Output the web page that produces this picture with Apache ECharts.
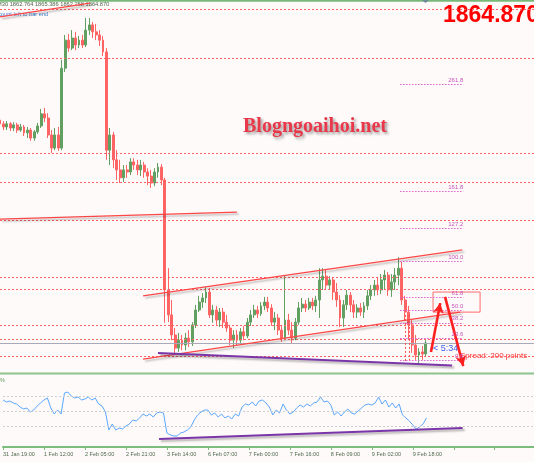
<!DOCTYPE html>
<html><head><meta charset="utf-8">
<script src="https://cdn.jsdelivr.net/npm/echarts@6/dist/echarts.min.js"></script>
<style>html,body{margin:0;padding:0;background:#fffafa}#c{width:534px;height:462px}</style>
</head><body><div id="c"></div>
<script>
const titleText = 'M30 1862.764 1865.386 1862.258 1864.870';
const timeLabels = ['31 Jan 19:00','1 Feb 12:00','2 Feb 05:00','2 Feb 21:00','3 Feb 14:00','6 Feb 07:00','7 Feb 00:00','7 Feb 16:00','8 Feb 09:00','9 Feb 02:00','9 Feb 18:00'];
const opens = [1929.3,1928.2,1927.3,1928.2,1927.0,1927.9,1926.4,1927.3,1925.6,1926.4,1924.1,1925.9,1927.6,1931.1,1929.9,1925.0,1921.2,1925.0,1921.2,1944.3,1952.4,1950.1,1953.0,1951.0,1952.4,1951.0,1955.3,1956.8,1954.8,1953.9,1952.4,1949.0,1920.6,1925.0,1917.8,1914.9,1912.6,1914.9,1914.3,1917.2,1916.3,1914.9,1916.3,1914.3,1913.1,1911.1,1914.3,1915.7,1912.0,1880.2,1873.0,1867.2,1863.4,1865.7,1864.3,1866.3,1865.2,1870.1,1874.4,1876.7,1877.9,1879.6,1873.0,1874.4,1871.5,1873.8,1870.9,1869.2,1865.7,1867.2,1865.7,1868.1,1866.9,1870.9,1873.0,1874.4,1873.3,1875.6,1876.7,1875.0,1870.9,1872.1,1868.6,1866.3,1871.5,1868.6,1866.3,1870.9,1875.0,1876.1,1875.0,1876.7,1875.6,1877.3,1883.1,1884.2,1881.6,1883.1,1879.6,1877.3,1872.1,1875.9,1878.7,1875.9,1873.8,1875.0,1873.8,1875.6,1878.5,1880.2,1881.6,1880.2,1883.1,1884.5,1880.2,1882.5,1884.5,1886.5,1877.3,1873.8,1870.1,1864.3,1861.4,1862.3,1861.7];
const closes = [1928.2,1927.3,1928.2,1927.0,1927.9,1926.4,1927.3,1925.6,1926.4,1924.1,1925.9,1927.6,1931.1,1929.9,1925.0,1921.2,1925.0,1921.2,1944.3,1952.4,1950.1,1953.0,1951.0,1952.4,1951.0,1955.3,1956.8,1954.8,1953.9,1952.4,1949.0,1920.6,1925.0,1917.8,1914.9,1912.6,1914.9,1914.3,1917.2,1916.3,1914.9,1916.3,1914.3,1913.1,1911.1,1914.3,1915.7,1912.0,1880.2,1873.0,1867.2,1863.4,1865.7,1864.3,1866.3,1865.2,1870.1,1874.4,1876.7,1877.9,1879.6,1873.0,1874.4,1871.5,1873.8,1870.9,1869.2,1865.7,1867.2,1865.7,1868.1,1866.9,1870.9,1873.0,1874.4,1873.3,1875.6,1876.7,1875.0,1870.9,1872.1,1868.6,1866.3,1871.5,1868.6,1866.3,1870.9,1875.0,1876.1,1875.0,1876.7,1875.6,1877.3,1883.1,1884.2,1881.6,1883.1,1879.6,1877.3,1872.1,1875.9,1878.7,1875.9,1873.8,1875.0,1873.8,1875.6,1878.5,1880.2,1881.6,1880.2,1883.1,1884.5,1880.2,1882.5,1884.5,1886.5,1877.3,1873.8,1870.1,1864.3,1861.4,1862.3,1861.7,1864.9];
const lows = [1927.3,1926.4,1926.4,1926.1,1926.1,1925.6,1925.9,1924.7,1924.1,1923.3,1923.3,1925.3,1927.0,1928.7,1924.1,1919.8,1920.6,1920.4,1920.6,1943.2,1949.0,1949.5,1949.5,1950.1,1950.1,1950.4,1953.9,1953.0,1952.4,1950.7,1947.8,1917.8,1916.3,1915.4,1912.0,1911.1,1911.4,1912.6,1913.4,1914.9,1913.4,1913.1,1912.6,1910.5,1909.7,1910.2,1912.6,1910.5,1870.7,1870.9,1865.7,1862.0,1862.3,1862.8,1862.8,1863.7,1864.0,1869.2,1873.8,1875.0,1876.4,1872.1,1870.7,1870.1,1869.5,1869.2,1868.1,1864.3,1863.4,1864.3,1864.9,1865.7,1866.3,1869.8,1872.1,1872.1,1872.7,1874.4,1873.8,1869.8,1868.6,1867.2,1865.2,1865.7,1867.2,1864.9,1865.7,1870.1,1873.8,1873.8,1874.4,1874.4,1873.8,1872.1,1880.2,1880.2,1880.2,1877.3,1875.3,1869.5,1869.5,1874.4,1873.8,1872.1,1872.1,1872.7,1872.1,1874.4,1877.3,1878.5,1878.7,1879.0,1880.2,1878.5,1878.2,1880.2,1881.6,1875.9,1871.5,1865.7,1862.0,1860.0,1859.1,1860.0,1860.8];
const highs = [1930.2,1929.0,1929.0,1928.7,1928.7,1928.5,1928.2,1927.9,1927.3,1927.0,1926.4,1928.5,1932.5,1932.8,1931.3,1926.4,1927.0,1927.3,1946.7,1953.9,1954.2,1955.3,1954.8,1953.6,1953.9,1958.8,1958.8,1957.6,1957.1,1955.3,1953.6,1950.1,1927.0,1925.9,1920.6,1917.8,1916.3,1916.3,1918.3,1918.3,1917.8,1917.8,1917.2,1915.4,1914.9,1915.4,1916.9,1916.6,1912.6,1886.5,1877.3,1869.2,1867.8,1867.2,1867.8,1868.6,1870.9,1875.9,1878.5,1879.3,1881.1,1880.8,1875.9,1875.6,1875.0,1875.0,1873.0,1870.1,1868.6,1868.6,1869.2,1869.8,1872.1,1874.4,1875.9,1875.6,1876.7,1878.2,1878.2,1876.1,1873.8,1873.3,1870.1,1884.5,1873.3,1870.9,1872.1,1876.7,1877.9,1877.3,1877.9,1877.9,1878.5,1886.5,1886.5,1886.0,1884.2,1883.9,1882.2,1878.7,1877.3,1880.2,1879.6,1877.3,1876.1,1876.4,1876.7,1880.2,1881.6,1883.1,1883.7,1884.8,1886.0,1885.4,1884.8,1886.5,1889.7,1888.3,1878.5,1875.6,1871.5,1867.2,1863.4,1864.0,1865.7];
const oscValues = [64.7,62.0,63.3,60.7,59.3,55.3,52.7,54.0,48.7,51.3,56.7,60.7,64.7,67.3,54.0,46.0,51.3,46.0,74.0,75.3,70.0,67.3,68.7,64.7,66.0,68.7,64.7,67.3,59.3,56.7,48.7,24.7,32.7,24.7,27.3,26.0,30.0,32.7,38.0,36.7,40.7,46.0,43.3,46.0,42.0,47.3,48.7,47.3,20.7,18.0,16.7,16.7,20.7,22.0,24.7,28.7,38.0,44.7,48.7,51.3,51.3,44.7,47.3,42.0,46.0,40.7,43.3,39.3,46.0,43.3,55.3,59.3,58.0,62.0,56.7,63.3,64.7,60.7,55.3,44.7,51.3,47.3,59.3,51.3,46.0,48.7,54.0,58.0,55.3,59.3,56.7,60.7,62.0,68.7,62.0,63.3,58.0,44.7,48.7,43.3,48.7,52.7,47.3,46.0,50.0,54.0,58.0,59.3,58.0,60.7,68.7,59.3,64.7,55.3,60.7,54.0,59.3,44.7,40.7,36.7,31.3,26.0,28.7,32.7,40.7];
const levelPrices = [1961.4,1947.2,1919.8,1911.4,1900.4,1883.9,1880.5,1870.1,1866.0,1861.1];
const bidPrice = 1864.87;
const fibLabels = ['261.8','161.8','127.2','100.0','61.8','50.0','38.2','23.6','0.0'];
const fibPrices = [1939.7,1908.8,1898.1,1888.6,1878.2,1874.4,1870.7,1866.3,1860.0];
const fibSpan = [116.5,134.9];
const redTrends = [[[0,1900.7],[69.0,1902.7]],[[41.65,1878.5],[134.6,1891.8]],[[41.65,1860.2],[134.0,1873.8]],[[0,1959.1],[26.2,1963.1]]];
const purpleTrend = [[46.0,1862.0],[131.65,1858.4]];
const arrows = [[[125.5,1862.3],[128.2,1876.4]],[[129.6,1878.2],[134.9,1858.2]]];
const vDots = [[[118.0,1873.0],[118.0,1859.4]],[[119.2,1873.0],[119.2,1859.4]]];
const boxArea = [[126.1,1879.6],[139.8,1873.8]];
const oscLevels = [70,50,30];
const oscTrend = [[45.7,12.7],[134.6,27.3]];

const chart = echarts.init(document.getElementById('c'), null, {renderer:'canvas'});
const candleData = opens.map((o,i)=>[i,o,closes[i],lows[i],highs[i]]);
const oscData = oscValues.map((v,i)=>[i,v]);
const shadow = {shadowColor:'rgba(0,0,0,0.3)',shadowBlur:2,shadowOffsetX:2,shadowOffsetY:2};
const pair = (seg, style) => [{coord:seg[0], lineStyle:style}, {coord:seg[1]}];

const mlData = [];
levelPrices.forEach(p=>mlData.push({yAxis:p, lineStyle:{color:'#ff6262',type:[2,2],width:1}}));
mlData.push({yAxis:bidPrice, lineStyle:{color:'#a9a9b8',type:'solid',width:1}});
redTrends.forEach(s=>mlData.push(pair(s, Object.assign({color:'#ff4646',width:1.2,type:'solid'},shadow))));
mlData.push(pair(purpleTrend, Object.assign({color:'#7a35a8',width:2,type:'solid'},shadow)));
vDots.forEach(s=>mlData.push(pair(s,{color:'#ff5050',width:1,type:[2,2]})));
fibPrices.forEach((p,k)=>mlData.push([{coord:[fibSpan[0],p],name:fibLabels[k],lineStyle:{color:'#e060d0',width:1,type:[1.5,1.5]},label:{show:true,position:'insideEndTop',formatter:'{b}',fontSize:6,color:'#c455b8',distance:[0,1],fontFamily:'Liberation Sans'}},{coord:[fibSpan[1],p]}]));
arrows.forEach(s=>mlData.push([{coord:s[0],symbol:'none',lineStyle:{color:'#ff2020',width:2.6,type:'solid'}},{coord:s[1],symbol:'arrow',symbolSize:[8,10]}]));

chart.setOption({
  animation:false,
  backgroundColor:'#fffafa',
  grid:[{left:0,right:0,top:3,height:365},{left:0,right:0,top:375,height:72}],
  xAxis:[
    {type:'value',gridIndex:0,min:0,max:155.5,show:false},
    {type:'value',gridIndex:1,min:0,max:155.5,interval:12,
     axisLine:{show:true,onZero:false,lineStyle:{color:'#7cbc7c',width:2}},
     axisTick:{show:true,length:3,lineStyle:{color:'#7cbc7c'}},
     splitLine:{show:false},
     axisLabel:{formatter:v=>(v%12===0 && timeLabels[v/12])||'',align:'left',fontSize:5.5,color:'#4d6a4d',margin:4,showMaxLabel:false,fontFamily:'Liberation Sans'}}
  ],
  yAxis:[
    {type:'value',gridIndex:0,min:1857.65,max:1963.13,show:false,splitLine:{show:false}},
    {type:'value',gridIndex:1,min:2,max:98,show:false,splitLine:{show:false}}
  ],
  series:[
    {type:'candlestick',xAxisIndex:0,yAxisIndex:0,data:candleData,encode:{x:0,y:[1,2,3,4]},barWidth:2.4,
     itemStyle:{color:'#62a062',color0:'#ff6464',borderColor:'#62a062',borderColor0:'#ff6464',borderWidth:1},
     markLine:{silent:true,symbol:'none',label:{show:false},data:mlData,animation:false},
     markArea:{silent:true,itemStyle:{color:'rgba(0,0,0,0)',borderColor:'#ff6a6a',borderWidth:1},data:[[{coord:boxArea[0]},{coord:boxArea[1]}]]}
    },
    {type:'line',xAxisIndex:1,yAxisIndex:1,data:oscData,showSymbol:false,lineStyle:{color:'#5aa8ff',width:1},
     markLine:{silent:true,symbol:'none',label:{show:false},animation:false,
       data:oscLevels.map(v=>({yAxis:v,lineStyle:{color:'#cfcfcf',type:[2,2],width:1}})).concat([[{coord:oscTrend[0],lineStyle:Object.assign({color:'#7a35a8',width:2,type:'solid'},shadow)},{coord:oscTrend[1]}]])}
    }
  ],
  graphic:[
    {type:'rect',shape:{x:0,y:0,width:534,height:1.8},style:{fill:'#78b878'},silent:true},
    {type:'polygon',shape:{points:[[422,0],[429,0],[425.5,3]]},style:{fill:'#6f8a9a'},silent:true},
    {type:'rect',shape:{x:0,y:372.5,width:534,height:2},style:{fill:'#8cc28c'},silent:true},
    {type:'text',x:-3,y:4.8,style:{text:titleText,fontSize:5.7,fontFamily:'Liberation Sans',fill:'#4f6b4f',verticalAlign:'middle'}},
    {type:'text',x:-2,y:14.5,style:{text:'count left to bar end',fontSize:5.7,fontFamily:'Liberation Sans',fill:'#3d7fd0',verticalAlign:'middle'}},
    {type:'text',x:443,y:15.5,style:{text:bidPrice.toFixed(3),fontSize:23,fontWeight:'bold',fontFamily:'Liberation Sans',fill:'#ff0000',verticalAlign:'middle'}},
    {type:'text',x:243,y:126.5,style:{text:'Blogngoaihoi.net',fontSize:20,fontWeight:'bold',fontFamily:'Liberation Serif',fill:'#e8384a',verticalAlign:'middle',textShadowColor:'rgba(0,0,0,0.4)',textShadowBlur:3,textShadowOffsetX:2,textShadowOffsetY:2}},
    {type:'text',x:433,y:348.5,style:{text:'< 5:34',fontSize:9,fontFamily:'Liberation Sans',fill:'#3c5ce8',verticalAlign:'middle'}},
    {type:'text',x:460,y:355.5,style:{text:'Spread: 200 points',fontSize:8,fontFamily:'Liberation Sans',fill:'#ff3030',verticalAlign:'middle'}},
    {type:'text',x:0,y:380,style:{text:'%',fontSize:5.5,fontFamily:'Liberation Sans',fill:'#5a9a5a',verticalAlign:'middle'}}
  ]
});
</script></body></html>
